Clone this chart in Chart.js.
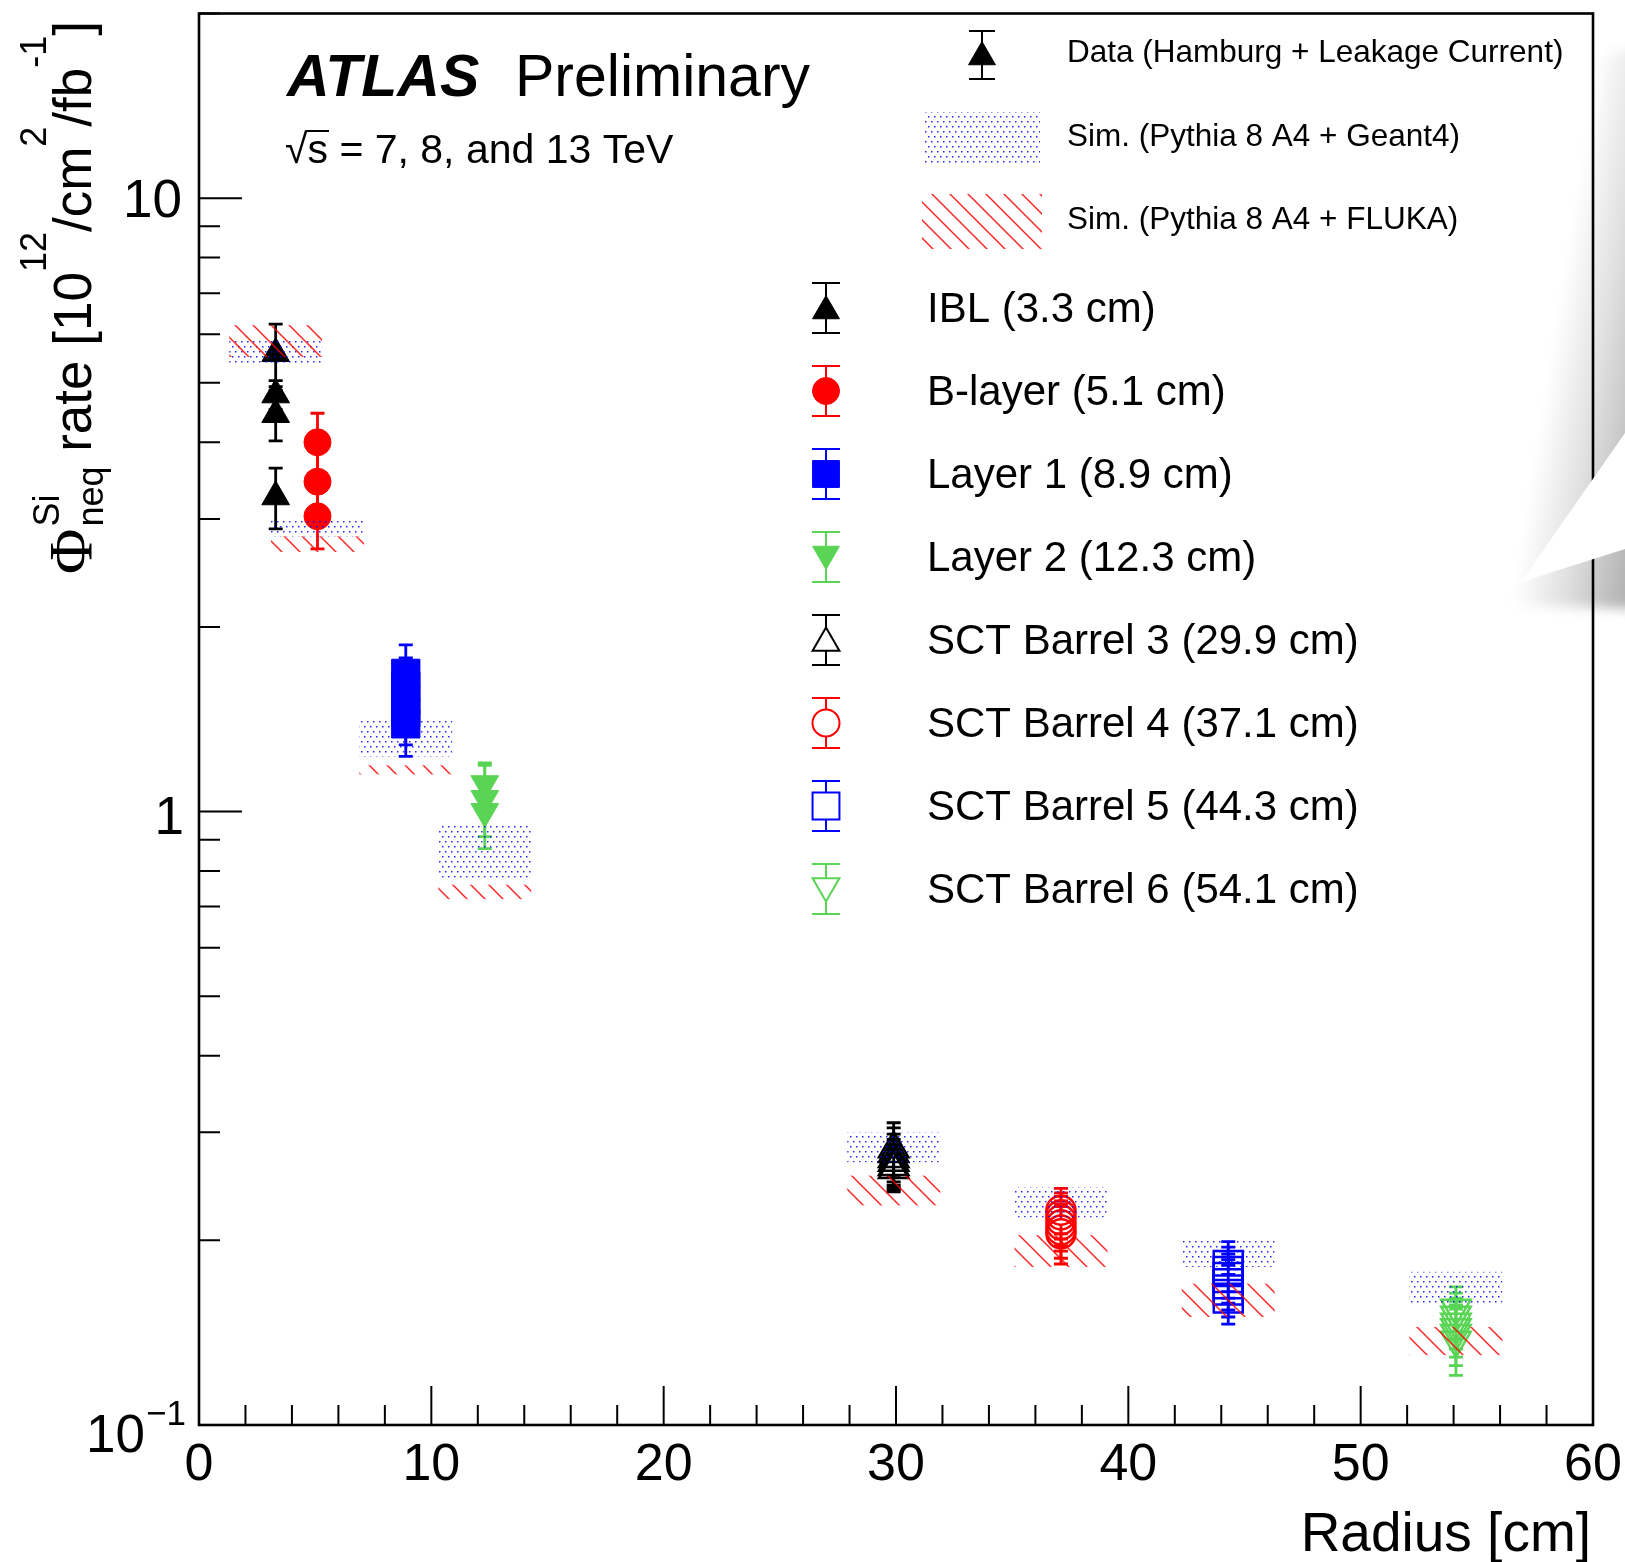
<!DOCTYPE html>
<html>
<head>
<meta charset="utf-8">
<script src="https://cdn.jsdelivr.net/npm/chart.js@4.4.1/dist/chart.umd.min.js"></script>
<style>
  html, body { margin: 0; padding: 0; background: #fff; }
  #wrap { width: 1625px; height: 1562px; }
</style>
</head>
<body>
<div id="wrap"><canvas id="fluence" width="1625" height="1562"></canvas></div>
<script>
// layer radii [cm] and names
const radii = [3.3, 5.1, 8.9, 12.3, 29.9, 37.1, 44.3, 54.1];
const layerLabels = ['IBL (3.3 cm)', 'B-layer (5.1 cm)', 'Layer 1 (8.9 cm)', 'Layer 2 (12.3 cm)',
  'SCT Barrel 3 (29.9 cm)', 'SCT Barrel 4 (37.1 cm)', 'SCT Barrel 5 (44.3 cm)', 'SCT Barrel 6 (54.1 cm)'];

// measured fluence rates [1e12 / cm2 / fb-1] and their errors
const iblRate = [5.58, 4.78, 4.44, 3.26];
const iblErr = [0.65, 0.26, 0.42, 0.37];
const bLayerRate = [4.00, 3.45, 3.03];
const bLayerErr = [0.46, 0.40, 0.35];
const layer1Rate = [1.68, 1.60, 1.52, 1.45, 1.39];
const layer1Err = [0.19, 0.18, 0.17, 0.165, 0.16];
const layer2Rate = [1.11, 1.05, 1.00];
const layer2Err = [0.09, 0.14, 0.13];
const sct3Rate = [0.282, 0.277, 0.272, 0.268, 0.264, 0.261];
const sct3Err = [0.029, 0.028, 0.026, 0.024, 0.022, 0.021];
const sct4Rate = [0.224, 0.220, 0.216, 0.212, 0.208, 0.205];
const sct4Err = [0.019, 0.019, 0.020, 0.020, 0.021, 0.022];
const sct5Rate = [0.182, 0.178, 0.174, 0.170, 0.166, 0.161];
const sct5Err = [0.017, 0.017, 0.016, 0.016, 0.016, 0.015];
const sct6Rate = [0.155, 0.151, 0.147, 0.144, 0.141, 0.1375];
const sct6Err = [0.013, 0.013, 0.014, 0.015, 0.016, 0.017];

// simulation bands (low / high edge per layer)
const geantLow = [5.37, 2.81, 1.23, 0.78, 0.268, 0.218, 0.181, 0.158];
const geantHigh = [5.87, 2.99, 1.41, 0.95, 0.300, 0.244, 0.2015, 0.1777];
const flukaLow = [5.51, 2.65, 1.15, 0.72, 0.228, 0.181, 0.150, 0.130];
const flukaHigh = [6.21, 2.81, 1.19, 0.76, 0.255, 0.204, 0.170, 0.1445];
const bandHalfWidth = 2; // cm

const xTickValues = [0, 10, 20, 30, 40, 50, 60];
const yMajorValues = [0.1, 1, 10];

// styles
const FONT = '"Liberation Sans", Arial, Helvetica, sans-serif';
const GREEN = '#59d454';
const layerColors = ['#000000', '#ff0000', '#0000ff', GREEN, '#000000', '#ff0000', '#0000ff', GREEN];
const layerMarkers = ['triangle', 'circle', 'rect', 'triangle', 'triangle', 'circle', 'rect', 'triangle'];
const layerRotation = [0, 0, 0, 180, 0, 0, 0, 180];
const layerFilled = [true, true, true, true, false, false, false, false];
const layerSize = [16, 13.5, 20, 16, 17, 14.5, 20.5, 17];

const layerRates = [iblRate, bLayerRate, layer1Rate, layer2Rate, sct3Rate, sct4Rate, sct5Rate, sct6Rate];
const layerErrs = [iblErr, bLayerErr, layer1Err, layer2Err, sct3Err, sct4Err, sct5Err, sct6Err];

Chart.defaults.font.family = FONT;
Chart.defaults.color = '#000';

const canvas = document.getElementById('fluence');
const ctx0 = canvas.getContext('2d');

function dotPattern() {
    const c = document.createElement('canvas');
    c.width = 6; c.height = 10;
    const g = c.getContext('2d');
    g.fillStyle = 'rgba(0, 0, 255, 0.85)';
    g.fillRect(1, 1, 1.5, 1.5);
    g.fillRect(4, 6, 1.5, 1.5);
    return ctx0.createPattern(c, 'repeat');
}

function hatchPattern() {
    const s = 18;
    const c = document.createElement('canvas');
    c.width = s; c.height = s;
    const g = c.getContext('2d');
    g.strokeStyle = 'rgba(255, 0, 0, 0.85)';
    g.lineWidth = 1.5;
    g.beginPath();
    g.moveTo(0, 0); g.lineTo(s, s);
    g.moveTo(-s / 2, s / 2); g.lineTo(s / 2, s * 1.5);
    g.moveTo(s / 2, -s / 2); g.lineTo(s * 1.5, s / 2);
    g.stroke();
    return ctx0.createPattern(c, 'repeat');
}

const DOTS = dotPattern();
const HATCH = hatchPattern();

const datasets = layerLabels.map((label, k) => ({
    label: label,
    data: layerRates[k].map((v, i) => ({ x: radii[k], y: v, err: layerErrs[k][i] })),
    pointStyle: layerMarkers[k],
    rotation: layerRotation[k],
    pointRadius: layerSize[k],
    pointHoverRadius: layerSize[k],
    backgroundColor: layerFilled[k] ? layerColors[k] : 'rgba(0,0,0,0)',
    borderColor: layerColors[k],
    borderWidth: layerFilled[k] ? 1 : 2.5,
    showLine: false
}));

// gap for the error bar line so it stops at open markers
function markerGap(k, r) {
    if (layerFilled[k]) return [0, 0];
    if (layerMarkers[k] === 'triangle') return layerRotation[k] ? [r / 2, r] : [r, r / 2];
    if (layerMarkers[k] === 'rect') return [r * 0.707, r * 0.707];
    return [r, r];
}

function drawMarker(ctx, k, x, y, r) {
    ctx.save();
    ctx.fillStyle = layerFilled[k] ? layerColors[k] : 'rgba(0,0,0,0)';
    ctx.strokeStyle = layerColors[k];
    ctx.lineWidth = layerFilled[k] ? 1 : 2;
    Chart.helpers.drawPoint(ctx, {
        pointStyle: layerMarkers[k], rotation: layerRotation[k], radius: r,
        borderWidth: ctx.lineWidth
    }, x, y);
    ctx.restore();
}

function errorBar(ctx, x, yTop, yBot, yc, gapTop, gapBot, capHalf) {
    ctx.beginPath();
    ctx.moveTo(x, yTop); ctx.lineTo(x, yc - gapTop);
    ctx.moveTo(x, yc + gapBot); ctx.lineTo(x, yBot);
    ctx.moveTo(x - capHalf, yTop); ctx.lineTo(x + capHalf, yTop);
    ctx.moveTo(x - capHalf, yBot); ctx.lineTo(x + capHalf, yBot);
    ctx.stroke();
}

const errorBarsPlugin = {
    id: 'errorBars',
    beforeDatasetsDraw(chart) {
        const ctx = chart.ctx, xs = chart.scales.x, ys = chart.scales.y, a = chart.chartArea;
        ctx.save();
        ctx.beginPath(); ctx.rect(a.left, a.top, a.width, a.height); ctx.clip();
        ctx.lineWidth = 2.8;
        chart.data.datasets.forEach((ds, k) => {
            ctx.strokeStyle = layerColors[k];
            const gap = markerGap(k, layerSize[k]);
            ds.data.forEach(p => {
                const px = xs.getPixelForValue(p.x);
                errorBar(ctx, px, ys.getPixelForValue(p.y + p.err), ys.getPixelForValue(p.y - p.err),
                    ys.getPixelForValue(p.y), gap[0], gap[1], 7);
            });
        });
        ctx.restore();
    }
};

const simBandsPlugin = {
    id: 'simBands',
    afterDatasetsDraw(chart) {
        const ctx = chart.ctx, xs = chart.scales.x, ys = chart.scales.y, a = chart.chartArea;
        ctx.save();
        ctx.beginPath(); ctx.rect(a.left, a.top, a.width, a.height); ctx.clip();
        radii.forEach((r, k) => {
            const x1 = xs.getPixelForValue(r - bandHalfWidth), x2 = xs.getPixelForValue(r + bandHalfWidth);
            ctx.fillStyle = DOTS;
            let y1 = ys.getPixelForValue(geantHigh[k]), y2 = ys.getPixelForValue(geantLow[k]);
            ctx.fillRect(x1, y1, x2 - x1, y2 - y1);
            ctx.fillStyle = HATCH;
            y1 = ys.getPixelForValue(flukaHigh[k]); y2 = ys.getPixelForValue(flukaLow[k]);
            ctx.fillRect(x1, y1, x2 - x1, y2 - y1);
        });
        ctx.restore();
    }
};

function drawYTitle(ctx) {
    const big = 53, small = 36;
    const sans = px => px + 'px ' + FONT;
    const parts = [
        { t: '\u03A6', f: '62px "Liberation Serif", "DejaVu Serif", serif', dy: 0 },
        { stack: ['Si', 'neq'], f: sans(small), dy: [-32, 12] },
        { t: ' rate [10', f: sans(big), dy: 0 },
        { t: '12', f: sans(small), dy: -45 },
        { t: '/cm', f: sans(big), dy: 0 },
        { t: '2', f: sans(small), dy: -45 },
        { t: '/fb', f: sans(big), dy: 0 },
        { t: '-1', f: sans(small), dy: -45 },
        { t: ']', f: sans(big), dy: 0 }
    ];
    let total = 0;
    parts.forEach(p => {
        ctx.font = p.f;
        p.w = p.stack ? Math.max(...p.stack.map(s => ctx.measureText(s).width)) + 2 : ctx.measureText(p.t).width;
        total += p.w;
    });
    ctx.save();
    ctx.translate(91, 21 + total);
    ctx.rotate(-Math.PI / 2);
    ctx.fillStyle = '#000';
    ctx.textBaseline = 'alphabetic';
    ctx.textAlign = 'left';
    let cx = 0;
    parts.forEach(p => {
        ctx.font = p.f;
        if (p.stack) {
            ctx.fillText(p.stack[0], cx + 2, p.dy[0]);
            ctx.fillText(p.stack[1], cx + 2, p.dy[1]);
        } else {
            ctx.fillText(p.t, cx, p.dy);
        }
        cx += p.w;
    });
    ctx.restore();
}

function drawPageCurl(ctx) {
    const tip = [1521, 582];
    ctx.save();
    const g = ctx.createLinearGradient(tip[0] - 5, tip[1], tip[0] + 105, tip[1] + 17);
    g.addColorStop(0, 'rgba(0,0,0,0)');
    g.addColorStop(0.45, 'rgba(0,0,0,0.12)');
    g.addColorStop(1, 'rgba(0,0,0,0.3)');
    ctx.filter = 'blur(6px)';
    ctx.fillStyle = g;
    ctx.beginPath();
    ctx.moveTo(1604, 55);
    ctx.lineTo(1680, 40);
    ctx.lineTo(1680, 610);
    ctx.lineTo(1505, 605);
    ctx.lineTo(tip[0] - 4, tip[1]);
    ctx.closePath();
    ctx.fill();
    ctx.filter = 'none';
    ctx.fillStyle = '#ffffff';
    ctx.beginPath();
    ctx.moveTo(tip[0], tip[1]);
    ctx.lineTo(1625, 433);
    ctx.lineTo(1625, 549);
    ctx.closePath();
    ctx.fill();
    ctx.restore();
}

const decorPlugin = {
    id: 'decor',
    afterDraw(chart) {
        const ctx = chart.ctx, xs = chart.scales.x, ys = chart.scales.y, a = chart.chartArea;
        ctx.save();
        // frame
        ctx.strokeStyle = '#000';
        ctx.lineWidth = 2.6;
        ctx.strokeRect(a.left, a.top, a.width, a.height);
        // x ticks (inside, from the bottom axis)
        ctx.lineWidth = 2;
        ctx.beginPath();
        for (let v = 0; v <= 60; v += 2) {
            const px = xs.getPixelForValue(v);
            const len = v % 10 === 0 ? 39 : 20;
            ctx.moveTo(px, a.bottom); ctx.lineTo(px, a.bottom - len);
        }
        // y ticks (log, inside from the left axis)
        for (let d = 0.1; d < 20; d *= 10) {
            for (let m = 1; m <= 9; m++) {
                const v = d * m;
                if (v > 20) break;
                const py = ys.getPixelForValue(v);
                const len = m === 1 ? 43 : 21;
                ctx.moveTo(a.left, py); ctx.lineTo(a.left + len, py);
            }
        }
        ctx.stroke();

        // y tick labels
        ctx.fillStyle = '#000';
        ctx.textAlign = 'right';
        ctx.textBaseline = 'alphabetic';
        ctx.font = '53px ' + FONT;
        ctx.fillText('10', 182, ys.getPixelForValue(yMajorValues[2]) + 19);
        ctx.fillText('1', 184, ys.getPixelForValue(yMajorValues[1]) + 22);
        ctx.fillText('10', 145, ys.getPixelForValue(yMajorValues[0]) + 27);
        ctx.textAlign = 'left';
        ctx.font = '35px ' + FONT;
        ctx.fillText('\u22121', 146, ys.getPixelForValue(yMajorValues[0]));

        // axis titles
        ctx.font = '55px ' + FONT;
        ctx.textAlign = 'right';
        ctx.fillText('Radius [cm]', a.right - 2, 1551);
        drawYTitle(ctx);

        // ATLAS label
        ctx.textAlign = 'left';
        ctx.font = 'italic bold 59px ' + FONT;
        ctx.fillText('ATLAS', 287, 96);
        ctx.font = '59px ' + FONT;
        ctx.fillText('Preliminary', 515, 96);
        ctx.font = '41px ' + FONT;
        ctx.fillText('\u221As = 7, 8, and 13 TeV', 285, 163);
        // overbar of the square root
        const rootW = ctx.measureText('\u221A').width, sW = ctx.measureText('s').width;
        ctx.lineWidth = 2;
        ctx.beginPath();
        ctx.moveTo(285 + rootW - 2, 131); ctx.lineTo(285 + rootW + sW + 1, 131);
        ctx.stroke();

        // upper legend
        ctx.strokeStyle = '#000';
        ctx.lineWidth = 2;
        errorBar(ctx, 982, 31, 79, 55, 0, 0, 13);
        drawMarker(ctx, 0, 982, 57, 15.5);
        ctx.fillStyle = DOTS;
        ctx.fillRect(925, 112, 115, 52);
        ctx.fillStyle = HATCH;
        ctx.fillRect(922, 194, 120, 55);
        ctx.fillStyle = '#000';
        ctx.font = '31.5px ' + FONT;
        ctx.textBaseline = 'middle';
        ctx.fillText('Data (Hamburg + Leakage Current)', 1067, 53);
        ctx.fillText('Sim. (Pythia 8 A4 + Geant4)', 1067, 137);
        ctx.fillText('Sim. (Pythia 8 A4 + FLUKA)', 1067, 220);

        // lower legend
        ctx.font = '42px ' + FONT;
        layerLabels.forEach((label, k) => {
            const y = 308 + 83 * k;
            ctx.strokeStyle = layerColors[k];
            ctx.lineWidth = 2;
            const r = layerMarkers[k] === 'rect' ? 19 : (layerMarkers[k] === 'circle' ? 13.5 : 15.5);
            const gap = markerGap(k, r);
            const yc = layerMarkers[k] === 'triangle' ? y + (layerRotation[k] ? -3 : 3) : y;
            errorBar(ctx, 826, y - 25, y + 25, yc, gap[0], gap[1], 14);
            drawMarker(ctx, k, 826, yc, r);
            ctx.fillStyle = '#000';
            ctx.fillText(label, 927, y + 2);
        });

        drawPageCurl(ctx);
        ctx.restore();
    }
};

function noPadding(scale) {
    scale.paddingTop = 0; scale.paddingBottom = 0;
    scale.paddingLeft = 0; scale.paddingRight = 0;
}

new Chart(canvas, {
    type: 'scatter',
    data: { datasets: datasets },
    options: {
        responsive: false,
        animation: false,
        events: [],
        layout: { autoPadding: false, padding: { top: 13.5, right: 32, left: 0, bottom: 0 } },
        plugins: { legend: { display: false }, tooltip: { enabled: false } },
        scales: {
            x: {
                type: 'linear',
                min: 0, max: 60,
                afterFit(scale) { scale.height = 137; noPadding(scale); },
                afterBuildTicks(scale) { scale.ticks = xTickValues.map(v => ({ value: v })); },
                grid: { display: false, drawTicks: false },
                border: { display: false },
                ticks: {
                    font: { size: 52, family: FONT },
                    color: '#000',
                    padding: 9,
                    maxRotation: 0,
                    autoSkip: false
                }
            },
            y: {
                type: 'logarithmic',
                min: 0.1, max: 20,
                afterFit(scale) { scale.width = 199; noPadding(scale); },
                grid: { display: false, drawTicks: false },
                border: { display: false },
                ticks: { display: false }
            }
        }
    },
    plugins: [errorBarsPlugin, simBandsPlugin, decorPlugin]
});
</script>
</body>
</html>
